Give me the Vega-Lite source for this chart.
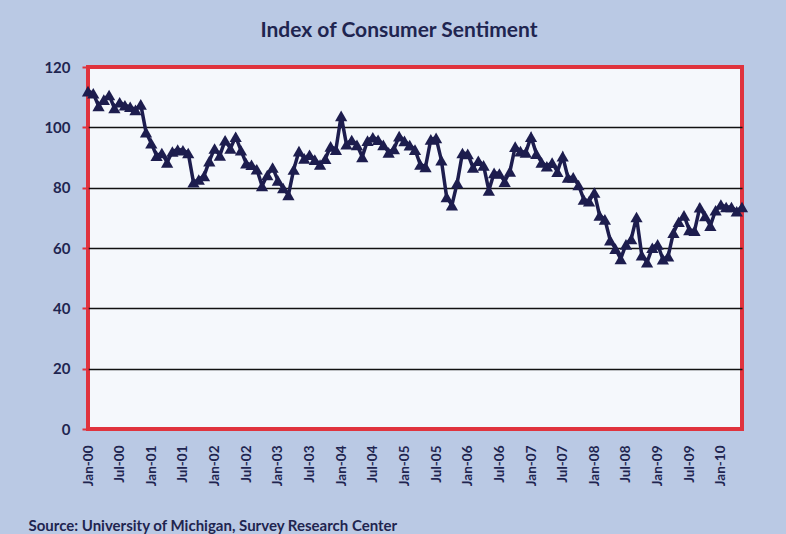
{
  "$schema": "https://vega.github.io/schema/vega-lite/v6.json",
  "autosize": "none",
  "width": 654,
  "height": 362,
  "padding": {"left": 88, "top": 67, "right": 44, "bottom": 105},
  "background": "#BAC9E4",
  "title": {
    "text": "Index of Consumer Sentiment",
    "frame": "group",
    "anchor": "middle",
    "dx": -16,
    "offset": 19,
    "font": "Lato",
    "fontSize": 21,
    "fontWeight": "bold",
    "color": "#1F2550"
  },
  "config": {
    "view": {"fill": "#F5F8FC", "stroke": "#E0333D", "strokeWidth": 4},
    "axis": {"labelFont": "Lato", "labelFontWeight": "bold", "labelFontSize": 14, "labelColor": "#1F2550", "domain": false}
  },
  "data": {
    "values": [
      {"m": "Jan-00", "v": 112.0}, {"m": "Feb-00", "v": 111.3}, {"m": "Mar-00", "v": 107.1}, {"m": "Apr-00", "v": 109.2},
      {"m": "May-00", "v": 110.7}, {"m": "Jun-00", "v": 106.4}, {"m": "Jul-00", "v": 108.3}, {"m": "Aug-00", "v": 107.3},
      {"m": "Sep-00", "v": 106.8}, {"m": "Oct-00", "v": 105.8}, {"m": "Nov-00", "v": 107.6}, {"m": "Dec-00", "v": 98.4},
      {"m": "Jan-01", "v": 94.7}, {"m": "Feb-01", "v": 90.6}, {"m": "Mar-01", "v": 91.5}, {"m": "Apr-01", "v": 88.4},
      {"m": "May-01", "v": 92.0}, {"m": "Jun-01", "v": 92.6}, {"m": "Jul-01", "v": 92.4}, {"m": "Aug-01", "v": 91.5},
      {"m": "Sep-01", "v": 81.8}, {"m": "Oct-01", "v": 82.7}, {"m": "Nov-01", "v": 83.9}, {"m": "Dec-01", "v": 88.8},
      {"m": "Jan-02", "v": 93.0}, {"m": "Feb-02", "v": 90.7}, {"m": "Mar-02", "v": 95.7}, {"m": "Apr-02", "v": 93.0},
      {"m": "May-02", "v": 96.9}, {"m": "Jun-02", "v": 92.4}, {"m": "Jul-02", "v": 88.1}, {"m": "Aug-02", "v": 87.6},
      {"m": "Sep-02", "v": 86.1}, {"m": "Oct-02", "v": 80.6}, {"m": "Nov-02", "v": 84.2}, {"m": "Dec-02", "v": 86.7},
      {"m": "Jan-03", "v": 82.4}, {"m": "Feb-03", "v": 79.9}, {"m": "Mar-03", "v": 77.6}, {"m": "Apr-03", "v": 86.0},
      {"m": "May-03", "v": 92.1}, {"m": "Jun-03", "v": 89.7}, {"m": "Jul-03", "v": 90.9}, {"m": "Aug-03", "v": 89.3},
      {"m": "Sep-03", "v": 87.7}, {"m": "Oct-03", "v": 89.6}, {"m": "Nov-03", "v": 93.7}, {"m": "Dec-03", "v": 92.6},
      {"m": "Jan-04", "v": 103.8}, {"m": "Feb-04", "v": 94.4}, {"m": "Mar-04", "v": 95.8}, {"m": "Apr-04", "v": 94.2},
      {"m": "May-04", "v": 90.2}, {"m": "Jun-04", "v": 95.6}, {"m": "Jul-04", "v": 96.7}, {"m": "Aug-04", "v": 95.9},
      {"m": "Sep-04", "v": 94.2}, {"m": "Oct-04", "v": 91.7}, {"m": "Nov-04", "v": 92.8}, {"m": "Dec-04", "v": 97.1},
      {"m": "Jan-05", "v": 95.5}, {"m": "Feb-05", "v": 94.1}, {"m": "Mar-05", "v": 92.6}, {"m": "Apr-05", "v": 87.7},
      {"m": "May-05", "v": 86.9}, {"m": "Jun-05", "v": 96.0}, {"m": "Jul-05", "v": 96.5}, {"m": "Aug-05", "v": 89.1},
      {"m": "Sep-05", "v": 76.9}, {"m": "Oct-05", "v": 74.2}, {"m": "Nov-05", "v": 81.6}, {"m": "Dec-05", "v": 91.5},
      {"m": "Jan-06", "v": 91.2}, {"m": "Feb-06", "v": 86.7}, {"m": "Mar-06", "v": 88.9}, {"m": "Apr-06", "v": 87.4},
      {"m": "May-06", "v": 79.1}, {"m": "Jun-06", "v": 84.9}, {"m": "Jul-06", "v": 84.7}, {"m": "Aug-06", "v": 82.0},
      {"m": "Sep-06", "v": 85.4}, {"m": "Oct-06", "v": 93.6}, {"m": "Nov-06", "v": 92.1}, {"m": "Dec-06", "v": 91.7},
      {"m": "Jan-07", "v": 96.9}, {"m": "Feb-07", "v": 91.3}, {"m": "Mar-07", "v": 88.4}, {"m": "Apr-07", "v": 87.1},
      {"m": "May-07", "v": 88.3}, {"m": "Jun-07", "v": 85.3}, {"m": "Jul-07", "v": 90.4}, {"m": "Aug-07", "v": 83.4},
      {"m": "Sep-07", "v": 83.4}, {"m": "Oct-07", "v": 80.9}, {"m": "Nov-07", "v": 76.1}, {"m": "Dec-07", "v": 75.5},
      {"m": "Jan-08", "v": 78.4}, {"m": "Feb-08", "v": 70.8}, {"m": "Mar-08", "v": 69.5}, {"m": "Apr-08", "v": 62.6},
      {"m": "May-08", "v": 59.8}, {"m": "Jun-08", "v": 56.4}, {"m": "Jul-08", "v": 61.2}, {"m": "Aug-08", "v": 63.0},
      {"m": "Sep-08", "v": 70.3}, {"m": "Oct-08", "v": 57.6}, {"m": "Nov-08", "v": 55.3}, {"m": "Dec-08", "v": 60.1},
      {"m": "Jan-09", "v": 61.2}, {"m": "Feb-09", "v": 56.3}, {"m": "Mar-09", "v": 57.3}, {"m": "Apr-09", "v": 65.1},
      {"m": "May-09", "v": 68.7}, {"m": "Jun-09", "v": 70.8}, {"m": "Jul-09", "v": 66.0}, {"m": "Aug-09", "v": 65.7},
      {"m": "Sep-09", "v": 73.5}, {"m": "Oct-09", "v": 70.6}, {"m": "Nov-09", "v": 67.4}, {"m": "Dec-09", "v": 72.5},
      {"m": "Jan-10", "v": 74.4}, {"m": "Feb-10", "v": 73.6}, {"m": "Mar-10", "v": 73.6}, {"m": "Apr-10", "v": 72.2},
      {"m": "May-10", "v": 73.6}
    ]
  },
  "mark": {
    "type": "line",
    "color": "#1D1D4E",
    "strokeWidth": 3.5,
    "point": {"shape": "triangle-up", "size": 150, "filled": true, "color": "#1D1D4E", "opacity": 1}
  },
  "encoding": {
    "x": {
      "field": "m",
      "type": "ordinal",
      "sort": null,
      "scale": {"type": "point", "padding": 0},
      "axis": {
        "values": ["Jan-00", "Jul-00", "Jan-01", "Jul-01", "Jan-02", "Jul-02", "Jan-03", "Jul-03", "Jan-04", "Jul-04", "Jan-05", "Jul-05", "Jan-06", "Jul-06", "Jan-07", "Jul-07", "Jan-08", "Jul-08", "Jan-09", "Jul-09", "Jan-10"],
        "labelAngle": -90,
        "labelAlign": "right",
        "labelBaseline": "middle",
        "labelPadding": 16,
        "labelFontSize": 13.5,
        "ticks": false,
        "grid": false,
        "title": "Source: University of Michigan, Survey Research Center",
        "titleFont": "Lato",
        "titleFontSize": 15,
        "titleFontWeight": "bold",
        "titleColor": "#1F2550",
        "titleAnchor": "start",
        "titleAlign": "left",
        "titleBaseline": "middle",
        "titleX": -60,
        "titleY": 96
      }
    },
    "y": {
      "field": "v",
      "type": "quantitative",
      "scale": {"domain": [0, 120], "nice": false},
      "axis": {
        "values": [0, 20, 40, 60, 80, 100, 120],
        "title": null,
        "labelFontSize": 15,
        "labelPadding": 12,
        "tickColor": "#E0333D",
        "tickSize": 6,
        "tickWidth": 2,
        "grid": true,
        "gridColor": "#111111",
        "gridWidth": 1.5,
        "gridOpacity": {"condition": {"test": "datum.value == 0 || datum.value == 120", "value": 0}, "value": 1}
      }
    }
  }
}
